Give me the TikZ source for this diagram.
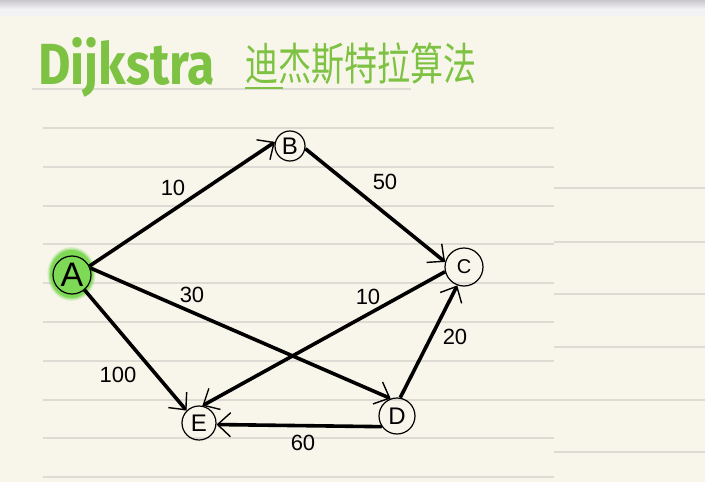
\documentclass[tikz,border=0pt]{standalone}
\usepackage{fontspec}
\setmainfont{Liberation Sans}
\newfontfamily\titlefont{Fira Sans}
\newfontfamily\cjkfont{Noto Sans CJK SC}
\usetikzlibrary{arrows.meta}
\definecolor{paper}{HTML}{F8F5EA}
\definecolor{ruleclr}{HTML}{DEDBD4}
\definecolor{titlegreen}{HTML}{7DC242}
\definecolor{agreen}{HTML}{7ED957}
\definecolor{topgray}{HTML}{C9C7CB}
\definecolor{topband}{HTML}{F2F1F4}
\begin{document}
\begin{tikzpicture}[x=1pt,y=-1pt,
  ruleline/.style={ruleclr, line width=1.6pt},
  vtx/.style={circle, draw=black, line width=1.2pt, inner sep=0pt, font=\fontsize{24}{24}\selectfont},
  edge/.style={black, line width=3.6pt, -{Straight Barb[length=13pt,width=24pt,line width=1.4pt]}},
  wlabel/.style={inner sep=0pt, font=\fontsize{22}{22}\selectfont}
]
\useasboundingbox (0,0) rectangle (705,482);
\fill[paper] (0,0) rectangle (705,482);
\shade[top color=topgray, bottom color=topband] (0,0) rectangle (705,9);
\fill[topband] (0,9) rectangle (705,16);
% ruled lines
\draw[ruleline] (32,89) -- (411,89);
\foreach \yy in {128,167,206,244,283,322,361,400,438,477}
  \draw[ruleline] (43,\yy) -- (554,\yy);
\foreach \yy in {188,242,294,347,400,452}
  \draw[ruleline] (554,\yy) -- (705,\yy);
% title
\node[anchor=base west, text=titlegreen, inner sep=0pt,
      font=\titlefont\bfseries\fontsize{58}{58}\selectfont] (title) at (38,84) {\scalebox{0.86}[1]{Dijkstra}};
\node[anchor=base west, text=titlegreen, inner sep=0pt,
      font=\cjkfont\fontsize{33}{33}\selectfont] (cjk) at (245,80) {\scalebox{1}[1.35]{迪杰斯特拉算法}};
\draw[titlegreen, line width=1.5pt] (245,88) -- (283,88);
% green highlight of A
\foreach \op/\rr in {0.25/1.12,0.5/1.06,1/1}
  \fill[agreen, opacity=\op] (71.5,274) ellipse ({21.5*\rr} and {24*\rr});
% vertices
\node[vtx, minimum size=38pt, font=\fontsize{34}{34}\selectfont] (A) at (72,275) {A};
\node[vtx, minimum size=30pt] (B) at (290,146) {B};
\node[vtx, minimum size=38pt, font=\fontsize{20}{20}\selectfont] (C) at (464,267) {C};
\node[vtx, minimum size=36pt] (D) at (397,416) {D};
\node[vtx, minimum size=34pt] (E) at (199,423) {E};
% edges
\draw[edge] (A.27) -- (B.165);
\draw[edge] (B.-10) -- (C.165);
\draw[edge] (A.21) -- (D.110);
\draw[edge] (A.-50) -- (E.135);
\draw[edge] (C.194) -- (E.79);
\draw[edge] (D.80) -- (C.-110);
\draw[edge] (D.215) -- (E.-5);
% weights
\node[wlabel] (wAB) at (173,188) {10};
\node[wlabel] (wBC) at (385,182) {50};
\node[wlabel] (wAD) at (192,295) {30};
\node[wlabel] (wCE) at (368,297) {10};
\node[wlabel] (wDC) at (455,337) {20};
\node[wlabel] (wAE) at (118,375) {100};
\node[wlabel] (wDE) at (303,443) {60};
\end{tikzpicture}
\end{document}
